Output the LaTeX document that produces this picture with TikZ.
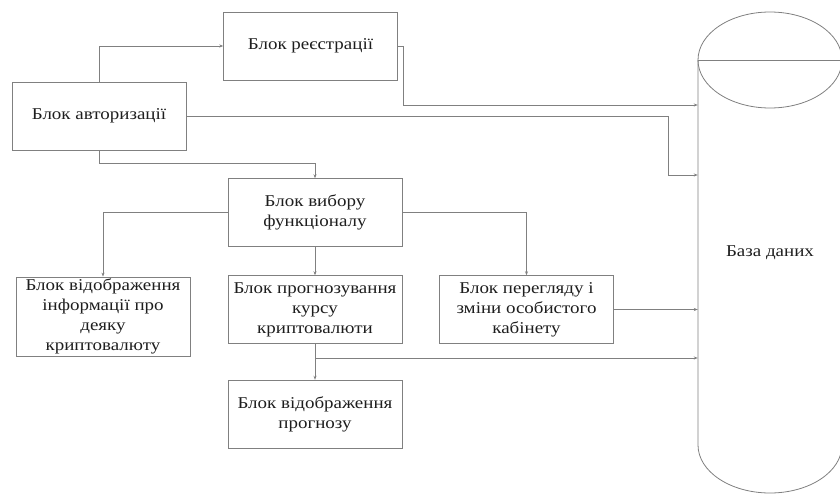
\documentclass[tikz,border=0pt]{standalone}
\usepackage{fontspec}
\setmainfont[FakeStretch=1.15]{Liberation Serif}
\usepackage{xcolor}
\usepackage{tikz}
\usetikzlibrary{arrows.meta}
\definecolor{linegray}{RGB}{128,128,128}
\definecolor{textgray}{RGB}{30,30,30}

\begin{document}
\begin{tikzpicture}[
  x=1pt,y=-1pt,
  block/.style={rectangle,draw=linegray,text=textgray,minimum width=174pt,minimum height=68pt,inner sep=2pt,align=center,font=\fontsize{16.5}{20}\selectfont},
  line/.style={draw=linegray,line width=0.8pt},
  arrow/.style={line,-{Stealth[length=4pt,width=3pt]}}
]
\useasboundingbox (0,0) rectangle (840,495);

\node[block] (reg) at (310.5,46) {Блок реєстрації};
\node[block] (auth) at (99,116) {Блок авторизації};
\node[block] (choice) at (315,212.5) {Блок вибору\\функціоналу};
\node[block] (info) at (103,316.5) {Блок відображення\\інформації про\\деяку\\криптовалюту};
\node[block] (fc) at (315,309.5) {Блок прогнозування\\курсу\\криптовалюти};
\node[block] (cab) at (526.5,309.5) {Блок перегляду і\\зміни особистого\\кабінету};
\node[block] (show) at (315,414) {Блок відображення\\прогнозу};
\node[rectangle,minimum width=144pt,minimum height=384pt,text=textgray,font=\fontsize{16.5}{20}\selectfont] (db) at (770,253) {База даних};

% database cylinder
\draw[line] (770,60) ellipse [x radius=72, y radius=48];
\draw[line] (698,60) -- (842,60);
\draw[line] (698,60) -- (698,445) arc[start angle=180, end angle=0, x radius=72, y radius=48] -- (842,60);

\draw[arrow] (auth.north) |- (reg.west);
\draw[arrow] (reg.east) -- ++(6,0) |- (db.west |- 0,105);
\draw[arrow] (auth.east) -| (668,175) -- (db.west |- 0,175);
\draw[arrow] (auth.south) -- ++(0,13) -| (choice.north);
\draw[arrow] (choice.west) -| (info.north);
\draw[arrow] (choice.east) -| (cab.north);
\draw[arrow] (choice.south) -- (fc.north);
\draw[arrow] (cab.east) -- (cab.east -| db.west);
\draw[arrow] (fc.south) -- (show.north);
\draw[arrow] (fc.south |- 0,358) -- (db.west |- 0,358);

\end{tikzpicture}
\end{document}
